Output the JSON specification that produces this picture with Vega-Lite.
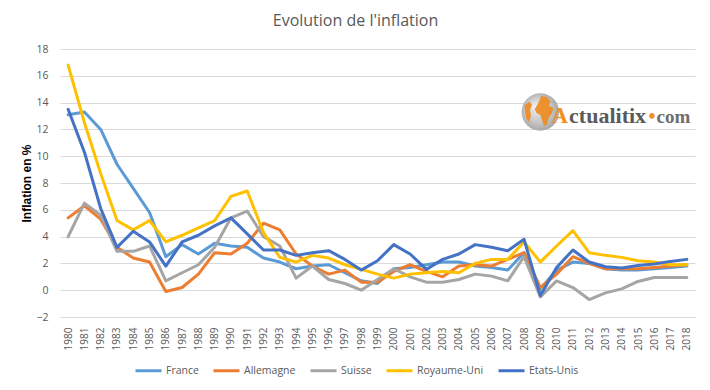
{
  "$schema": "https://vega.github.io/schema/vega-lite/v6.json",
  "width": 635,
  "height": 268,
  "autosize": {"type": "none"},
  "padding": {"left": 60, "top": 49, "right": 15, "bottom": 73},
  "background": "white",
  "title": {"text": "Evolution de l'inflation", "font": "Open Sans", "fontSize": 16, "fontWeight": "normal", "color": "#595959", "anchor": "middle", "frame": "group", "dx": -22, "offset": 15},
  "config": {
    "view": {"stroke": null},
    "font": "Open Sans",
    "axis": {"labelColor": "#595959", "labelFont": "Open Sans"},
    "legend": {"labelFont": "Open Sans"}
  },
  "datasets": {
    "infl": [
      {"annee": "1980", "pays": "France", "inflation": 13.1}, {"annee": "1981", "pays": "France", "inflation": 13.3}, {"annee": "1982", "pays": "France", "inflation": 12.0}, {"annee": "1983", "pays": "France", "inflation": 9.4}, {"annee": "1984", "pays": "France", "inflation": 7.6}, {"annee": "1985", "pays": "France", "inflation": 5.8}, {"annee": "1986", "pays": "France", "inflation": 2.5}, {"annee": "1987", "pays": "France", "inflation": 3.4}, {"annee": "1988", "pays": "France", "inflation": 2.7}, {"annee": "1989", "pays": "France", "inflation": 3.5},
      {"annee": "1990", "pays": "France", "inflation": 3.3}, {"annee": "1991", "pays": "France", "inflation": 3.2}, {"annee": "1992", "pays": "France", "inflation": 2.4}, {"annee": "1993", "pays": "France", "inflation": 2.1}, {"annee": "1994", "pays": "France", "inflation": 1.6}, {"annee": "1995", "pays": "France", "inflation": 1.8}, {"annee": "1996", "pays": "France", "inflation": 1.9}, {"annee": "1997", "pays": "France", "inflation": 1.3}, {"annee": "1998", "pays": "France", "inflation": 0.7}, {"annee": "1999", "pays": "France", "inflation": 0.5},
      {"annee": "2000", "pays": "France", "inflation": 1.6}, {"annee": "2001", "pays": "France", "inflation": 1.7}, {"annee": "2002", "pays": "France", "inflation": 1.9}, {"annee": "2003", "pays": "France", "inflation": 2.1}, {"annee": "2004", "pays": "France", "inflation": 2.1}, {"annee": "2005", "pays": "France", "inflation": 1.8}, {"annee": "2006", "pays": "France", "inflation": 1.7}, {"annee": "2007", "pays": "France", "inflation": 1.5}, {"annee": "2008", "pays": "France", "inflation": 2.8}, {"annee": "2009", "pays": "France", "inflation": 0.1},
      {"annee": "2010", "pays": "France", "inflation": 1.5}, {"annee": "2011", "pays": "France", "inflation": 2.1}, {"annee": "2012", "pays": "France", "inflation": 2.0}, {"annee": "2013", "pays": "France", "inflation": 1.6}, {"annee": "2014", "pays": "France", "inflation": 1.5}, {"annee": "2015", "pays": "France", "inflation": 1.5}, {"annee": "2016", "pays": "France", "inflation": 1.6}, {"annee": "2017", "pays": "France", "inflation": 1.7}, {"annee": "2018", "pays": "France", "inflation": 1.8},

      {"annee": "1980", "pays": "Allemagne", "inflation": 5.4}, {"annee": "1981", "pays": "Allemagne", "inflation": 6.3}, {"annee": "1982", "pays": "Allemagne", "inflation": 5.3}, {"annee": "1983", "pays": "Allemagne", "inflation": 3.2}, {"annee": "1984", "pays": "Allemagne", "inflation": 2.4}, {"annee": "1985", "pays": "Allemagne", "inflation": 2.1}, {"annee": "1986", "pays": "Allemagne", "inflation": -0.1}, {"annee": "1987", "pays": "Allemagne", "inflation": 0.2}, {"annee": "1988", "pays": "Allemagne", "inflation": 1.2}, {"annee": "1989", "pays": "Allemagne", "inflation": 2.8},
      {"annee": "1990", "pays": "Allemagne", "inflation": 2.7}, {"annee": "1991", "pays": "Allemagne", "inflation": 3.5}, {"annee": "1992", "pays": "Allemagne", "inflation": 5.0}, {"annee": "1993", "pays": "Allemagne", "inflation": 4.5}, {"annee": "1994", "pays": "Allemagne", "inflation": 2.7}, {"annee": "1995", "pays": "Allemagne", "inflation": 1.8}, {"annee": "1996", "pays": "Allemagne", "inflation": 1.2}, {"annee": "1997", "pays": "Allemagne", "inflation": 1.5}, {"annee": "1998", "pays": "Allemagne", "inflation": 0.6}, {"annee": "1999", "pays": "Allemagne", "inflation": 0.6},
      {"annee": "2000", "pays": "Allemagne", "inflation": 1.4}, {"annee": "2001", "pays": "Allemagne", "inflation": 1.9}, {"annee": "2002", "pays": "Allemagne", "inflation": 1.4}, {"annee": "2003", "pays": "Allemagne", "inflation": 1.0}, {"annee": "2004", "pays": "Allemagne", "inflation": 1.8}, {"annee": "2005", "pays": "Allemagne", "inflation": 1.9}, {"annee": "2006", "pays": "Allemagne", "inflation": 1.8}, {"annee": "2007", "pays": "Allemagne", "inflation": 2.3}, {"annee": "2008", "pays": "Allemagne", "inflation": 2.8}, {"annee": "2009", "pays": "Allemagne", "inflation": 0.2},
      {"annee": "2010", "pays": "Allemagne", "inflation": 1.2}, {"annee": "2011", "pays": "Allemagne", "inflation": 2.5}, {"annee": "2012", "pays": "Allemagne", "inflation": 2.0}, {"annee": "2013", "pays": "Allemagne", "inflation": 1.6}, {"annee": "2014", "pays": "Allemagne", "inflation": 1.6}, {"annee": "2015", "pays": "Allemagne", "inflation": 1.6}, {"annee": "2016", "pays": "Allemagne", "inflation": 1.7}, {"annee": "2017", "pays": "Allemagne", "inflation": 1.8}, {"annee": "2018", "pays": "Allemagne", "inflation": 1.9},

      {"annee": "1980", "pays": "Suisse", "inflation": 4.0}, {"annee": "1981", "pays": "Suisse", "inflation": 6.5}, {"annee": "1982", "pays": "Suisse", "inflation": 5.6}, {"annee": "1983", "pays": "Suisse", "inflation": 2.9}, {"annee": "1984", "pays": "Suisse", "inflation": 2.9}, {"annee": "1985", "pays": "Suisse", "inflation": 3.3}, {"annee": "1986", "pays": "Suisse", "inflation": 0.7}, {"annee": "1987", "pays": "Suisse", "inflation": 1.3}, {"annee": "1988", "pays": "Suisse", "inflation": 1.9}, {"annee": "1989", "pays": "Suisse", "inflation": 3.2},
      {"annee": "1990", "pays": "Suisse", "inflation": 5.4}, {"annee": "1991", "pays": "Suisse", "inflation": 5.9}, {"annee": "1992", "pays": "Suisse", "inflation": 4.0}, {"annee": "1993", "pays": "Suisse", "inflation": 3.3}, {"annee": "1994", "pays": "Suisse", "inflation": 0.9}, {"annee": "1995", "pays": "Suisse", "inflation": 1.8}, {"annee": "1996", "pays": "Suisse", "inflation": 0.8}, {"annee": "1997", "pays": "Suisse", "inflation": 0.5}, {"annee": "1998", "pays": "Suisse", "inflation": 0.0}, {"annee": "1999", "pays": "Suisse", "inflation": 0.8},
      {"annee": "2000", "pays": "Suisse", "inflation": 1.6}, {"annee": "2001", "pays": "Suisse", "inflation": 1.0}, {"annee": "2002", "pays": "Suisse", "inflation": 0.6}, {"annee": "2003", "pays": "Suisse", "inflation": 0.6}, {"annee": "2004", "pays": "Suisse", "inflation": 0.8}, {"annee": "2005", "pays": "Suisse", "inflation": 1.2}, {"annee": "2006", "pays": "Suisse", "inflation": 1.05}, {"annee": "2007", "pays": "Suisse", "inflation": 0.7}, {"annee": "2008", "pays": "Suisse", "inflation": 2.5}, {"annee": "2009", "pays": "Suisse", "inflation": -0.5},
      {"annee": "2010", "pays": "Suisse", "inflation": 0.7}, {"annee": "2011", "pays": "Suisse", "inflation": 0.2}, {"annee": "2012", "pays": "Suisse", "inflation": -0.7}, {"annee": "2013", "pays": "Suisse", "inflation": -0.2}, {"annee": "2014", "pays": "Suisse", "inflation": 0.1}, {"annee": "2015", "pays": "Suisse", "inflation": 0.65}, {"annee": "2016", "pays": "Suisse", "inflation": 0.95}, {"annee": "2017", "pays": "Suisse", "inflation": 0.95}, {"annee": "2018", "pays": "Suisse", "inflation": 0.95},

      {"annee": "1980", "pays": "Royaume-Uni", "inflation": 16.8}, {"annee": "1981", "pays": "Royaume-Uni", "inflation": 12.5}, {"annee": "1982", "pays": "Royaume-Uni", "inflation": 8.7}, {"annee": "1983", "pays": "Royaume-Uni", "inflation": 5.2}, {"annee": "1984", "pays": "Royaume-Uni", "inflation": 4.5}, {"annee": "1985", "pays": "Royaume-Uni", "inflation": 5.2}, {"annee": "1986", "pays": "Royaume-Uni", "inflation": 3.6}, {"annee": "1987", "pays": "Royaume-Uni", "inflation": 4.1}, {"annee": "1988", "pays": "Royaume-Uni", "inflation": 4.65}, {"annee": "1989", "pays": "Royaume-Uni", "inflation": 5.2},
      {"annee": "1990", "pays": "Royaume-Uni", "inflation": 7.0}, {"annee": "1991", "pays": "Royaume-Uni", "inflation": 7.4}, {"annee": "1992", "pays": "Royaume-Uni", "inflation": 4.3}, {"annee": "1993", "pays": "Royaume-Uni", "inflation": 2.45}, {"annee": "1994", "pays": "Royaume-Uni", "inflation": 2.1}, {"annee": "1995", "pays": "Royaume-Uni", "inflation": 2.6}, {"annee": "1996", "pays": "Royaume-Uni", "inflation": 2.4}, {"annee": "1997", "pays": "Royaume-Uni", "inflation": 1.9}, {"annee": "1998", "pays": "Royaume-Uni", "inflation": 1.55}, {"annee": "1999", "pays": "Royaume-Uni", "inflation": 1.2},
      {"annee": "2000", "pays": "Royaume-Uni", "inflation": 0.9}, {"annee": "2001", "pays": "Royaume-Uni", "inflation": 1.2}, {"annee": "2002", "pays": "Royaume-Uni", "inflation": 1.3}, {"annee": "2003", "pays": "Royaume-Uni", "inflation": 1.4}, {"annee": "2004", "pays": "Royaume-Uni", "inflation": 1.3}, {"annee": "2005", "pays": "Royaume-Uni", "inflation": 2.0}, {"annee": "2006", "pays": "Royaume-Uni", "inflation": 2.3}, {"annee": "2007", "pays": "Royaume-Uni", "inflation": 2.3}, {"annee": "2008", "pays": "Royaume-Uni", "inflation": 3.6}, {"annee": "2009", "pays": "Royaume-Uni", "inflation": 2.1},
      {"annee": "2010", "pays": "Royaume-Uni", "inflation": 3.3}, {"annee": "2011", "pays": "Royaume-Uni", "inflation": 4.45}, {"annee": "2012", "pays": "Royaume-Uni", "inflation": 2.8}, {"annee": "2013", "pays": "Royaume-Uni", "inflation": 2.6}, {"annee": "2014", "pays": "Royaume-Uni", "inflation": 2.45}, {"annee": "2015", "pays": "Royaume-Uni", "inflation": 2.2}, {"annee": "2016", "pays": "Royaume-Uni", "inflation": 2.1}, {"annee": "2017", "pays": "Royaume-Uni", "inflation": 1.9}, {"annee": "2018", "pays": "Royaume-Uni", "inflation": 1.9},

      {"annee": "1980", "pays": "Etats-Unis", "inflation": 13.5}, {"annee": "1981", "pays": "Etats-Unis", "inflation": 10.3}, {"annee": "1982", "pays": "Etats-Unis", "inflation": 6.1}, {"annee": "1983", "pays": "Etats-Unis", "inflation": 3.2}, {"annee": "1984", "pays": "Etats-Unis", "inflation": 4.4}, {"annee": "1985", "pays": "Etats-Unis", "inflation": 3.6}, {"annee": "1986", "pays": "Etats-Unis", "inflation": 1.8}, {"annee": "1987", "pays": "Etats-Unis", "inflation": 3.6}, {"annee": "1988", "pays": "Etats-Unis", "inflation": 4.1}, {"annee": "1989", "pays": "Etats-Unis", "inflation": 4.8},
      {"annee": "1990", "pays": "Etats-Unis", "inflation": 5.4}, {"annee": "1991", "pays": "Etats-Unis", "inflation": 4.2}, {"annee": "1992", "pays": "Etats-Unis", "inflation": 3.0}, {"annee": "1993", "pays": "Etats-Unis", "inflation": 3.0}, {"annee": "1994", "pays": "Etats-Unis", "inflation": 2.6}, {"annee": "1995", "pays": "Etats-Unis", "inflation": 2.8}, {"annee": "1996", "pays": "Etats-Unis", "inflation": 2.95}, {"annee": "1997", "pays": "Etats-Unis", "inflation": 2.3}, {"annee": "1998", "pays": "Etats-Unis", "inflation": 1.5}, {"annee": "1999", "pays": "Etats-Unis", "inflation": 2.2},
      {"annee": "2000", "pays": "Etats-Unis", "inflation": 3.4}, {"annee": "2001", "pays": "Etats-Unis", "inflation": 2.7}, {"annee": "2002", "pays": "Etats-Unis", "inflation": 1.55}, {"annee": "2003", "pays": "Etats-Unis", "inflation": 2.3}, {"annee": "2004", "pays": "Etats-Unis", "inflation": 2.7}, {"annee": "2005", "pays": "Etats-Unis", "inflation": 3.4}, {"annee": "2006", "pays": "Etats-Unis", "inflation": 3.2}, {"annee": "2007", "pays": "Etats-Unis", "inflation": 2.95}, {"annee": "2008", "pays": "Etats-Unis", "inflation": 3.8}, {"annee": "2009", "pays": "Etats-Unis", "inflation": -0.4},
      {"annee": "2010", "pays": "Etats-Unis", "inflation": 1.7}, {"annee": "2011", "pays": "Etats-Unis", "inflation": 3.0}, {"annee": "2012", "pays": "Etats-Unis", "inflation": 2.1}, {"annee": "2013", "pays": "Etats-Unis", "inflation": 1.75}, {"annee": "2014", "pays": "Etats-Unis", "inflation": 1.65}, {"annee": "2015", "pays": "Etats-Unis", "inflation": 1.85}, {"annee": "2016", "pays": "Etats-Unis", "inflation": 1.95}, {"annee": "2017", "pays": "Etats-Unis", "inflation": 2.15}, {"annee": "2018", "pays": "Etats-Unis", "inflation": 2.3}
    ],
    "logo": [{"annee": "2010", "inflation": 12.48}],
    "globe": [{"annee": "2009", "inflation": 13.3}]
  },
  "layer": [
    {
      "data": {"name": "infl"},
      "mark": {"type": "line", "strokeWidth": 3, "strokeJoin": "round", "strokeCap": "round"},
      "encoding": {
        "x": {
          "field": "annee", "type": "ordinal", "sort": null,
          "scale": {"padding": 0.5},
          "axis": {"title": null, "labelAngle": -90, "domain": false, "ticks": false, "grid": false, "labelPadding": 10, "labelFontSize": 10}
        },
        "y": {
          "field": "inflation", "type": "quantitative",
          "scale": {"domain": [-2, 18], "nice": false, "zero": false},
          "axis": {"values": [-2, 0, 2, 4, 6, 8, 10, 12, 14, 16, 18], "tickCount": 11, "labelOverlap": false, "title": "Inflation en %", "titleFontWeight": "bold", "titleFontSize": 12, "titleColor": "#000000", "titleFont": "Liberation Sans", "titlePadding": 2, "grid": true, "gridColor": "#d9d9d9", "gridWidth": 1, "domain": false, "ticks": false, "labelPadding": 12, "labelFontSize": 10.5}
        },
        "color": {
          "field": "pays", "type": "nominal",
          "scale": {"domain": ["France", "Allemagne", "Suisse", "Royaume-Uni", "Etats-Unis"], "range": ["#5B9BD5", "#ED7D31", "#A5A5A5", "#FFC000", "#4472C4"]},
          "legend": {"title": null, "orient": "none", "legendX": 74, "legendY": 307, "direction": "horizontal", "symbolType": "stroke", "symbolSize": 676, "symbolStrokeWidth": 3, "labelOffset": 3, "columnPadding": 8, "labelFontSize": 10.5, "labelColor": "#595959", "padding": 0}
        }
      }
    },
    {
      "data": {"name": "globe"},
      "mark": {"type": "point", "shape": "circle", "filled": true, "size": 1400, "dx": -13, "opacity": 1,
        "fill": {"gradient": "radial", "x1": 0.35, "y1": 0.35, "r1": 0, "x2": 0.5, "y2": 0.5, "r2": 0.6, "stops": [{"offset": 0, "color": "#f2f2f2"}, {"offset": 0.6, "color": "#c4c4c4"}, {"offset": 1, "color": "#9a9a9a"}]}},
      "encoding": {"x": {"field": "annee", "type": "ordinal"}, "y": {"field": "inflation", "type": "quantitative"}}
    },
    {
      "data": {"name": "globe"},
      "mark": {"type": "point", "filled": true, "size": 1400, "dx": -13, "opacity": 0.9, "color": "#EE8A1C",
        "shape": "M0.05,-0.85 L0.35,-0.8 L0.55,-0.55 L0.45,-0.35 L0.7,-0.2 L0.6,0.1 L0.45,0.3 L0.35,0.65 L0.2,0.75 L0.1,0.45 L0.0,0.15 L-0.2,0.05 L-0.3,-0.15 L-0.15,-0.4 L-0.05,-0.6 Z M-0.85,-0.35 L-0.6,-0.55 L-0.45,-0.4 L-0.55,-0.1 L-0.5,0.2 L-0.6,0.55 L-0.75,0.35 L-0.8,0.05 Z"},
      "encoding": {"x": {"field": "annee", "type": "ordinal"}, "y": {"field": "inflation", "type": "quantitative"}}
    },
    {
      "data": {"name": "logo"},
      "mark": {"type": "text", "text": "A", "align": "left", "baseline": "alphabetic", "dx": -5, "font": "Liberation Serif", "fontWeight": "bold", "fontSize": 23, "color": "#F0901E"},
      "encoding": {"x": {"field": "annee", "type": "ordinal"}, "y": {"field": "inflation", "type": "quantitative"}}
    },
    {
      "data": {"name": "logo"},
      "mark": {"type": "text", "text": "ctualitix", "align": "left", "baseline": "alphabetic", "dx": 12.5, "font": "Liberation Serif", "fontWeight": "bold", "fontSize": 22, "color": "#5a5a5a"},
      "encoding": {"x": {"field": "annee", "type": "ordinal"}, "y": {"field": "inflation", "type": "quantitative"}}
    },
    {
      "data": {"name": "logo"},
      "mark": {"type": "text", "text": "•", "align": "left", "baseline": "alphabetic", "dx": 92, "font": "Liberation Serif", "fontWeight": "bold", "fontSize": 20, "color": "#F0901E"},
      "encoding": {"x": {"field": "annee", "type": "ordinal"}, "y": {"field": "inflation", "type": "quantitative"}}
    },
    {
      "data": {"name": "logo"},
      "mark": {"type": "text", "text": "com", "align": "left", "baseline": "alphabetic", "dx": 100, "font": "Liberation Serif", "fontWeight": "bold", "fontSize": 19, "color": "#6e6e6e"},
      "encoding": {"x": {"field": "annee", "type": "ordinal"}, "y": {"field": "inflation", "type": "quantitative"}}
    }
  ]
}
